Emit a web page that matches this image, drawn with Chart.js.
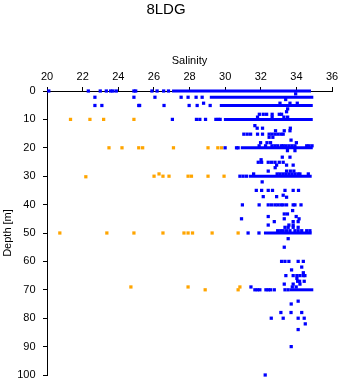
<!DOCTYPE html>
<html>
<head>
<meta charset="utf-8">
<script src="https://cdn.jsdelivr.net/npm/chart.js@4"></script>
<style>
  html, body { margin: 0; padding: 0; background: #fff; }
  #chart { display: block; }
</style>
</head>
<body>
<canvas id="chart" width="341" height="384"></canvas>
<script>
// salinity / depth of single samples, one line per depth level
const blueSalinity = [
  20.1, 22.32, 22.99, 23.33, 23.57, 23.7, 23.89, 24.88, 24.98, 25.89, 26.18, 26.55, 26.82,
  33.96,
  22.69, 24.88, 26.06, 27.53, 27.92, 28.37, 28.71,
  33.4,
  28.79, 33.08, 33.64, 34.05,
  22.69, 23.08, 25.15, 25.2, 26.57, 27.98, 28.43, 29.16,
  33.51, 33.45,
  31.92, 32.14, 32.33, 32.64, 33.04, 33.17,
  31.82, 32.64, 33.3, 33.51,
  27.04, 28.39, 28.58, 28.9, 29.48, 29.61, 29.72,
  31.67,
  31.8, 32.1, 33.66,
  32.83, 33.32, 33.64,
  31.05, 31.24, 31.43, 31.82, 32.1, 32.47, 32.63, 32.8, 32.96, 33.13, 33.26,
  32.47, 32.68,
  33.7,
  31.99, 32.35, 32.55, 34.0,
  31.91, 32.27, 32.63, 32.8, 32.96, 33.17, 33.26, 33.41, 33.58, 33.75, 33.92, 34.58, 34.71, 34.88,
  30.0, 30.64, 30.73,
  33.5, 33.92,
  33.21, 33.64,
  32.02,
  31.86, 32.05, 32.42, 32.61, 32.8, 33.04, 33.26,
  32.89, 33.45, 33.82,
  32.81,
  32.42, 33.45, 33.66, 33.86,
  31.6, 32.92, 33.08, 33.25, 33.41, 33.58, 33.75, 33.92, 34.09, 34.2, 34.67,
  30.83, 31.01, 31.2,
  32.08,
  31.75, 32.05, 32.42, 32.66, 33.36, 33.82, 34.12,
  32.14, 32.89, 33.26, 33.45,
  30.97, 31.91, 32.42, 32.61, 32.8, 32.96, 33.13, 33.26, 33.45, 33.82, 33.92, 34.26,
  33.79,
  33.32, 33.5,
  32.42, 33.99,
  30.92, 33.32, 34.15,
  32.76, 33.82, 34.1,
  32.42, 33.58, 33.82,
  33.36, 33.54, 33.82, 34.1,
  32.95, 33.12, 33.26, 33.45, 33.64, 33.92, 34.1, 34.3, 34.58, 34.76,
  31.29, 31.9,
  33.54,
  33.32,
  33.17, 33.36, 33.58, 34.1, 34.39,
  34.3,
  33.73,
  34.39,
  33.41, 33.82, 34.03, 34.2, 34.39, 34.48,
  34.03,
  34.07, 34.18, 34.44,
  33.32, 33.82, 34.2,
  31.45, 33.77, 33.99,
  31.67, 31.81, 31.95, 32.29, 32.42, 32.55, 32.76, 33.36, 33.54,
  34.1,
  33.71,
  33.13, 33.7, 34.3,
  32.59, 33.26, 34.1, 34.44,
  34.5,
  34.1,
  33.71,
  32.25
];
const blueDepth = [
  0, 0, 0, 0, 0, 0, 0, 0, 0, 0, 0, 0, 0,
  1,
  2.2, 2.2, 2.2, 2.2, 2.2, 2.2, 2.2,
  3,
  4.3, 4.3, 4.3, 4.3,
  5.1, 5.1, 5.1, 5.1, 5.1, 5.1, 5.1, 5.1,
  6.3, 7.3,
  8.2, 8.2, 8.2, 8.2, 8.2, 8.2,
  9.2, 9.2, 9.2, 9.2,
  10, 10, 10, 10, 10, 10, 10,
  12.2,
  13.1, 13.1, 13.1,
  14, 14, 14,
  15.2, 15.2, 15.2, 15.2, 15.2, 15.2, 15.2, 15.2, 15.2, 15.2, 15.2,
  16.3, 16.3,
  17.3,
  18.2, 18.2, 18.2, 18.2,
  19.3, 19.3, 19.3, 19.3, 19.3, 19.3, 19.3, 19.3, 19.3, 19.3, 19.3, 19.3, 19.3, 19.3,
  20, 20, 20,
  21, 21,
  23.3, 23.3,
  24.2,
  25.1, 25.1, 25.1, 25.1, 25.1, 25.1, 25.1,
  26.1, 26.1, 26.1,
  27,
  28.2, 28.2, 28.2, 28.2,
  29.2, 29.2, 29.2, 29.2, 29.2, 29.2, 29.2, 29.2, 29.2, 29.2, 29.2,
  30, 30, 30,
  32,
  35, 35, 35, 35, 35, 35, 35,
  37.2, 37.2, 36.7, 37.4,
  40.1, 40.1, 40.1, 40.1, 40.1, 40.1, 40.1, 40.1, 40.1, 40.1, 40.1, 40.1,
  42.1,
  43.3, 43.3,
  44.2, 44.2,
  45, 45, 45,
  46, 46, 46,
  47.2, 47.2, 47.2,
  48, 48, 48, 48,
  49.2, 49.2, 49.2, 49.2, 49.2, 49.2, 49.2, 49.2, 49.2, 49.2,
  50, 50,
  52,
  55,
  60, 60, 60, 60, 60,
  62,
  63,
  64,
  65, 65, 65, 65, 65, 65,
  66,
  67, 67, 67,
  68, 68, 68,
  69, 69, 69,
  70, 70, 70, 70, 70, 70, 70, 70, 70,
  74,
  75,
  78, 78, 78,
  80, 80, 80, 80,
  82,
  84,
  90,
  100
];

const orangeSalinity = [
  21.32, 22.41, 23.18, 24.88,
  23.48, 24.21, 25.15, 25.37, 27.1, 29.04, 29.59, 29.8,
  22.18, 26.01, 26.29, 26.51, 26.85, 27.92, 28.11, 29.04, 29.94,
  20.72, 23.36, 24.88, 26.51, 27.69, 27.92, 28.17, 29.27, 30.73,
  24.71, 27.92, 28.88, 30.73, 30.83
];
const orangeDepth = [
  10, 10, 10, 10,
  20, 20, 20, 20, 20, 20, 20, 20,
  30.2, 30, 29.2, 30, 30, 30, 30, 30, 30,
  50, 50, 50, 50, 50, 50, 50, 50, 50,
  69, 69, 70, 70, 69
];

// dense runs of blue samples at the standard depths
const runDepth = [0, 2.2, 5.1, 10, 20, 30, 50, 70];
const runFrom  = [27.02, 29.14, 29.7, 29.93, 30.88, 31.33, 32.18, 33.64];
const runTo    = [34.82, 34.95, 34.92, 34.92, 34.92, 34.86, 34.86, 34.95];

const BLUE = '#0000ff';
const ORANGE = '#ffa500';
const FONT = "'Liberation Sans', Arial, sans-serif";

const datasets = [];
runDepth.forEach((d, i) => {
  datasets.push({
    data: [{x: runFrom[i], y: d}, {x: runTo[i], y: d}],
    showLine: true,
    borderColor: BLUE,
    borderWidth: 3,
    borderCapStyle: 'butt',
    pointRadius: 0,
    clip: false
  });
});
datasets.push({
  data: blueSalinity.map((s, i) => ({x: s, y: blueDepth[i]})),
  pointStyle: 'rect',
  pointRadius: 2.3,
  borderWidth: 0,
  backgroundColor: BLUE,
  clip: false
});
datasets.push({
  data: orangeSalinity.map((s, i) => ({x: s, y: orangeDepth[i]})),
  pointStyle: 'rect',
  pointRadius: 2.3,
  borderWidth: 0,
  backgroundColor: ORANGE,
  clip: false
});

Chart.defaults.font.family = FONT;
Chart.defaults.color = '#000';

new Chart(document.getElementById('chart').getContext('2d'), {
  type: 'scatter',
  data: { datasets },
  options: {
    responsive: false,
    animation: false,
    layout: { padding: { left: 0, top: 0, right: 9, bottom: 9 } },
    plugins: {
      legend: { display: false },
      tooltip: { enabled: false },
      title: {
        display: true,
        text: '8LDG',
        color: '#000',
        font: { size: 15, weight: 'normal' },
        padding: { top: 1, bottom: 0 }
      }
    },
    scales: {
      x: {
        type: 'linear',
        position: 'top',
        min: 20,
        max: 36,
        ticks: { stepSize: 2, color: '#000', font: { size: 11 }, padding: 3 },
        grid: { drawOnChartArea: false, drawTicks: true, tickLength: 4, color: '#000' },
        border: { color: '#000', width: 1 },
        title: { display: true, text: 'Salinity', color: '#000', font: { size: 11 }, padding: { top: 35, bottom: 0 } },
        afterFit: s => { s.height = 72; s.paddingLeft = 0; s.paddingRight = 0; }
      },
      y: {
        type: 'linear',
        reverse: true,
        min: 0,
        max: 100,
        ticks: { stepSize: 10, color: '#000', font: { size: 11 }, padding: 7.5 },
        grid: { drawOnChartArea: false, drawTicks: true, tickLength: 4, color: '#000' },
        border: { color: '#000', width: 1 },
        title: { display: true, text: 'Depth [m]', color: '#000', font: { size: 11 }, padding: { top: 1.4, bottom: 0 } },
        afterFit: s => { s.width = 47; s.paddingTop = 0; s.paddingBottom = 0; }
      }
    }
  }
});
</script>
</body>
</html>
